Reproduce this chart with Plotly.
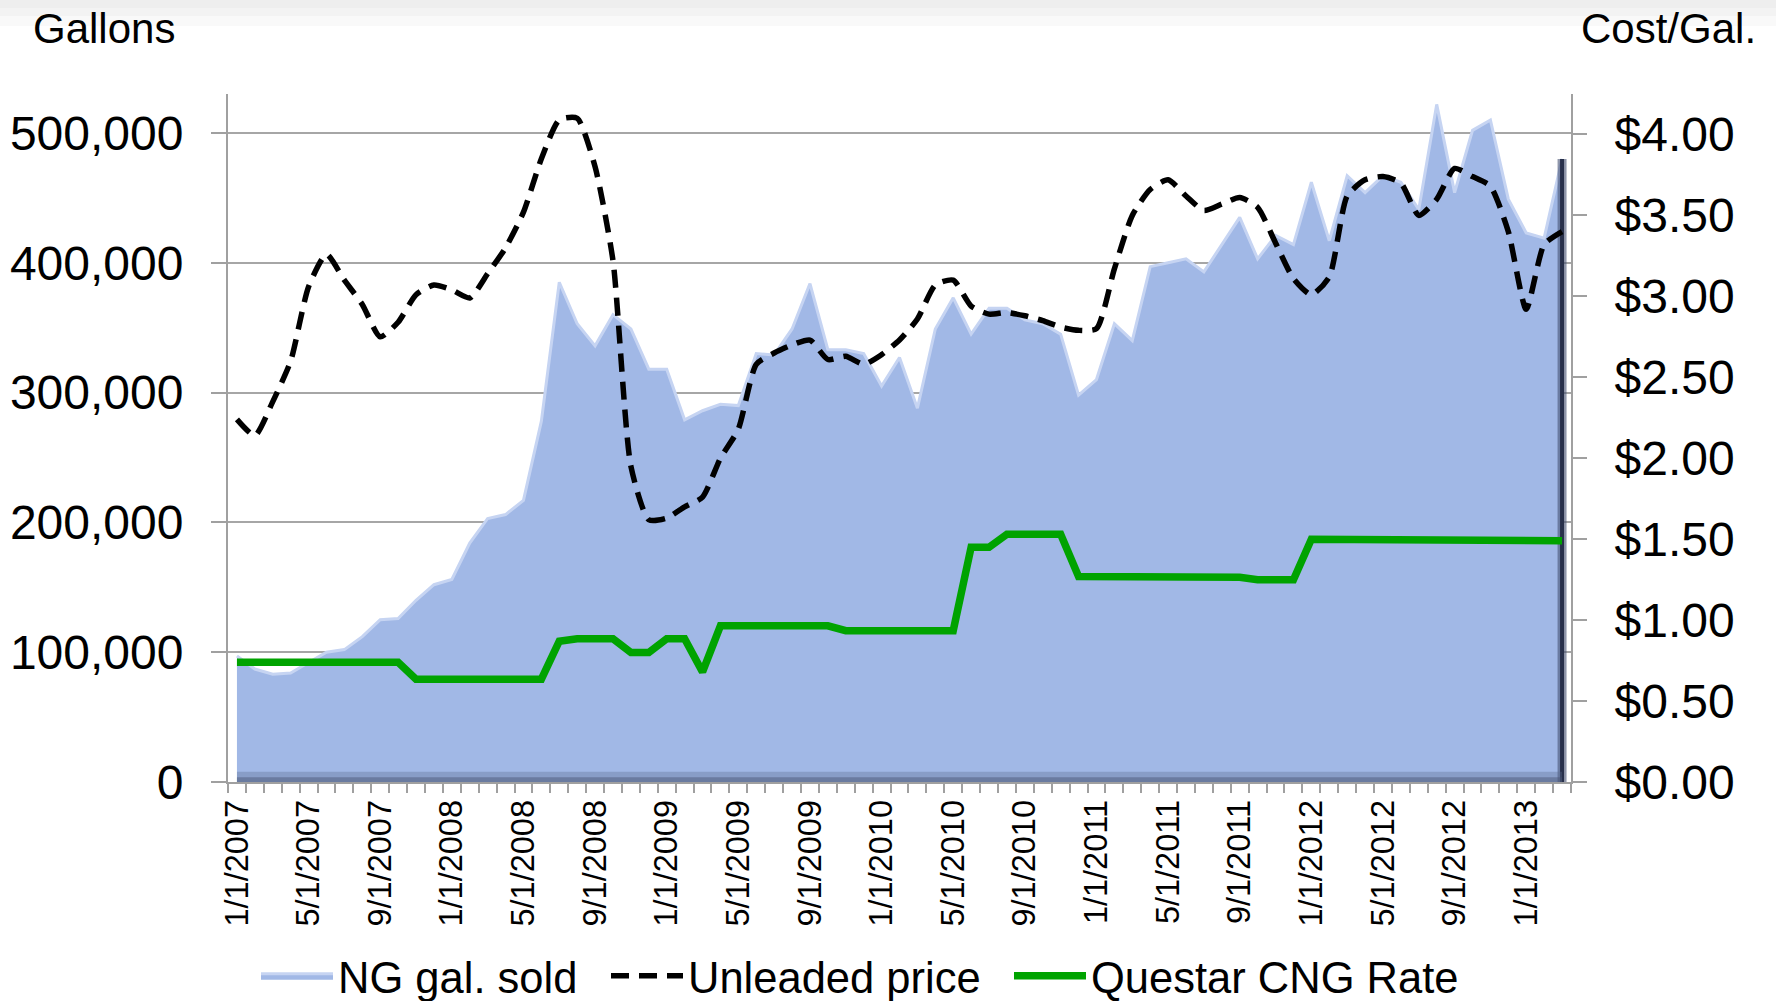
import plotly.graph_objects as go
import pandas as pd

# ---------------- data ----------------
months = pd.date_range("2007-01-01", periods=75, freq="MS")
month_labels = [f"{d.month}/{d.day}/{d.year}" for d in months]
label_every = 4

ng_gallons = [
    97000, 87000, 83000, 84000, 92000, 100000, 102000, 112000, 125000, 126000,
    140000, 152000, 156000, 184000, 203000, 206000, 217000, 278000, 385000, 353000,
    336000, 360000, 349000, 318000, 318000, 279000, 286000, 291000, 290000, 330000,
    329000, 349000, 384000, 333000, 333000, 330000, 305000, 327000, 288000, 349000,
    373000, 345000, 365000, 365000, 356000, 353000, 345000, 298000, 310000, 353000,
    340000, 397000, 400000, 403000, 393000, 414000, 435000, 403000, 421000, 414000,
    462000, 417000, 467000, 454000, 467000, 462000, 441000, 522000, 454000, 502000,
    510000, 449000, 423000, 419000, 480000,
]

unleaded_price = [
    2.24, 2.14, 2.35, 2.60, 3.06, 3.26, 3.10, 2.95, 2.75, 2.84,
    3.01, 3.07, 3.04, 2.99, 3.14, 3.30, 3.52, 3.85, 4.09, 4.10,
    3.80, 3.22, 1.95, 1.62, 1.63, 1.70, 1.76, 2.00, 2.18, 2.58,
    2.65, 2.70, 2.73, 2.61, 2.63, 2.58, 2.64, 2.73, 2.86, 3.07,
    3.10, 2.94, 2.89, 2.90, 2.88, 2.85, 2.81, 2.79, 2.80, 3.17,
    3.50, 3.66, 3.72, 3.62, 3.53, 3.57, 3.61, 3.55, 3.33, 3.11,
    3.01, 3.12, 3.62, 3.72, 3.74, 3.70, 3.50, 3.60, 3.79, 3.74,
    3.68, 3.40, 2.92, 3.32, 3.40,
]

questar_cng_rate = [
    0.74, 0.74, 0.74, 0.74, 0.74, 0.74, 0.74, 0.74, 0.74, 0.74,
    0.635, 0.635, 0.635, 0.635, 0.635, 0.635, 0.635, 0.635, 0.87, 0.885,
    0.885, 0.885, 0.80, 0.80, 0.885, 0.885, 0.68, 0.965, 0.965, 0.965,
    0.965, 0.965, 0.965, 0.965, 0.935, 0.935, 0.935, 0.935, 0.935, 0.935,
    0.935, 1.45, 1.45, 1.53, 1.53, 1.53, 1.53, 1.27, 1.27, 1.27,
    1.27, 1.27, 1.265, 1.265, 1.265, 1.265, 1.265, 1.25, 1.25, 1.25,
    1.50, 1.50, 1.50, 1.50, 1.50, 1.50, 1.50, 1.49, 1.49, 1.49,
    1.49, 1.49, 1.49, 1.49, 1.49,
]

# ---------------- figure ----------------
x = list(range(len(month_labels)))
ticktext = [lab if i % label_every == 0 else "" for i, lab in enumerate(month_labels)]

FONT = "Liberation Sans, Arial, sans-serif"
GRID = "#a6a6a6"
AXIS = "#a0a0a0"

# plot-area geometry in pixels (used to place page-level decorations)
W, H = 1776, 1001
ML, MR, MT, MB = 228, 205, 94, 219
PW, PH = W - ML - MR, H - MT - MB


def px_x(p):
    return (p - ML) / PW


def px_y(p):
    return (H - MB - p) / PH


fig = go.Figure()

fig.add_trace(go.Scatter(
    x=x, y=ng_gallons, name="NG gal. sold", mode="lines",
    fill="tozeroy", fillcolor="rgb(161,184,230)",
    line=dict(color="rgb(198,212,242)", width=3),
    yaxis="y", hoverinfo="skip", legend="legend",
))
# dark bevel edge on the right side of the area
fig.add_trace(go.Scatter(
    x=[x[-1], x[-1]], y=[0, ng_gallons[-1]], mode="lines",
    line=dict(color="rgba(70,82,115,0.6)", width=9),
    showlegend=False, hoverinfo="skip", yaxis="y",
))
fig.add_trace(go.Scatter(
    x=[x[-1], x[-1]], y=[0, ng_gallons[-1]], mode="lines",
    line=dict(color="rgb(40,48,75)", width=4),
    showlegend=False, hoverinfo="skip", yaxis="y",
))
fig.add_trace(go.Scatter(
    x=x, y=unleaded_price, name="Unleaded price", mode="lines",
    line=dict(color="black", width=5.5, dash="18px,10px", shape="spline", smoothing=0.6),
    yaxis="y2", hoverinfo="skip", legend="legend2",
))
fig.add_trace(go.Scatter(
    x=x, y=questar_cng_rate, name="Questar CNG Rate", mode="lines",
    line=dict(color="rgb(0,163,0)", width=7.5),
    yaxis="y2", hoverinfo="skip", legend="legend3",
))

shapes = []
# light gray fade at the top of the page
for (a, b, c) in [(0, 8, "#eeeeee"), (8, 16, "#f3f3f3"), (16, 26, "#f9f9f9")]:
    shapes.append(dict(type="rect", xref="paper", yref="paper",
                       x0=px_x(0), x1=px_x(W), y0=px_y(b), y1=px_y(a),
                       fillcolor=c, line=dict(width=0), layer="below"))
# bevel shading along the bottom of the area
shapes.append(dict(type="rect", xref="x", yref="y domain", x0=x[0], x1=x[-1],
                   y0=0, y1=0.015, fillcolor="rgba(90,105,140,0.35)",
                   line=dict(width=0), layer="above"))
shapes.append(dict(type="rect", xref="x", yref="y domain", x0=x[0], x1=x[-1],
                   y0=0, y1=0.007, fillcolor="rgba(70,82,112,0.45)",
                   line=dict(width=0), layer="above"))

legend_common = dict(
    orientation="h", yanchor="middle", y=px_y(976), xanchor="left",
    font=dict(size=43.5, family=FONT, color="black"),
    bgcolor="rgba(0,0,0,0)", itemwidth=72,
)

fig.update_layout(
    width=W, height=H,
    margin=dict(l=ML, r=MR, t=MT, b=MB, autoexpand=False),
    paper_bgcolor="white", plot_bgcolor="white",
    font=dict(family=FONT, color="black"),
    showlegend=True,
    xaxis=dict(
        range=[-0.5, len(x) - 0.5], tickmode="array", tickvals=x, ticktext=ticktext,
        tickangle=-90, tickfont=dict(size=32.5, family=FONT, color="black"),
        ticks="outside", ticklen=3, tickcolor="rgba(0,0,0,0)",
        minor=dict(tick0=-0.5, dtick=1, ticks="outside", ticklen=9,
                   tickcolor=AXIS, tickwidth=1.5, showgrid=False),
        showline=True, linecolor=AXIS, linewidth=2, showgrid=False, zeroline=False,
        automargin=False,
    ),
    yaxis=dict(
        range=[0, 530000], tick0=0, dtick=100000, tickformat=",",
        tickfont=dict(size=48, family=FONT, color="black"),
        ticks="outside", ticklen=15, tickcolor=AXIS, tickwidth=1.5,
        showline=True, linecolor=AXIS, linewidth=2,
        showgrid=True, gridcolor=GRID, gridwidth=1.5, zeroline=False,
        ticklabelstandoff=18, automargin=False,
    ),
    yaxis2=dict(
        overlaying="y", side="right", anchor="x",
        range=[0, 4.25], tick0=0, dtick=0.5, tickformat="$.2f",
        tickfont=dict(size=48, family=FONT, color="black"),
        ticks="outside", ticklen=14, tickcolor=AXIS, tickwidth=1.5,
        showline=True, linecolor=AXIS, linewidth=2,
        showgrid=False, zeroline=False,
        ticklabelstandoff=18, automargin=False,
    ),
    legend=dict(x=px_x(256), **legend_common),
    legend2=dict(x=px_x(606), **legend_common),
    legend3=dict(x=px_x(1009), **legend_common),
    shapes=shapes,
    annotations=[
        dict(text="Gallons", xref="paper", yref="paper",
             x=px_x(31), y=px_y(28), xanchor="left", yanchor="middle",
             showarrow=False, font=dict(size=42, family=FONT, color="black")),
        dict(text="Cost/Gal.", xref="paper", yref="paper",
             x=px_x(1758), y=px_y(28), xanchor="right", yanchor="middle",
             showarrow=False, font=dict(size=42, family=FONT, color="black")),
    ],
)

fig.write_html(
    "out.html",
    config={"displayModeBar": False},
    post_script="document.body.style.margin='0';document.body.style.overflow='hidden';",
)
